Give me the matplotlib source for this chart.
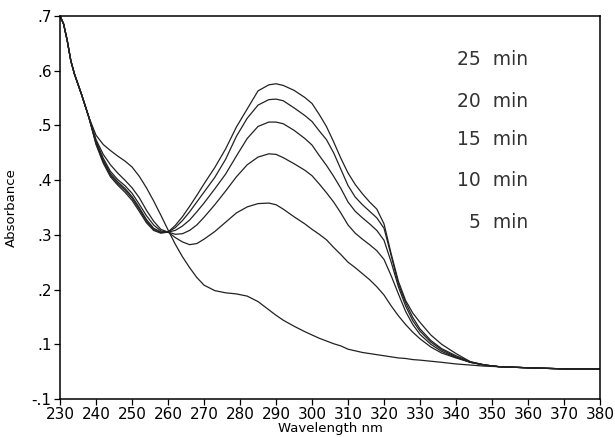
import matplotlib
matplotlib.use("Agg")
import matplotlib.pyplot as plt

# wavelength grid (nm)
wl = [230, 231, 232, 233, 234, 236, 238, 240, 242, 244, 246, 248, 250, 252, 254,
      256, 258, 260, 262, 264, 266, 268, 270, 273, 276, 279, 282, 285, 288, 290,
      292, 295, 298, 300, 302, 304, 306, 308, 310, 312, 314, 316, 318, 320, 322,
      324, 326, 328, 330, 333, 336, 340, 344, 348, 352, 356, 360, 365, 370, 375, 380]

start = [0.700, 0.685, 0.655, 0.618, 0.594, 0.556, 0.515]
tail = [0.059, 0.058, 0.057, 0.056, 0.055, 0.055, 0.055]

abs_0 = start + [0.482, 0.465, 0.454, 0.444, 0.435, 0.424, 0.407, 0.386,
                 0.362, 0.336, 0.309, 0.283, 0.260, 0.240, 0.222, 0.208, 0.198, 0.194, 0.192,
                 0.188, 0.178, 0.163, 0.153, 0.144, 0.133, 0.123, 0.117, 0.111, 0.106, 0.101,
                 0.097, 0.091, 0.088, 0.085, 0.083, 0.081, 0.079, 0.077, 0.075, 0.074, 0.072,
                 0.071, 0.069, 0.067, 0.064, 0.062, 0.060] + tail

abs_5 = start + [0.474, 0.447, 0.428, 0.413, 0.400, 0.386, 0.368, 0.345,
                 0.325, 0.310, 0.305, 0.295, 0.287, 0.282, 0.284, 0.292, 0.306, 0.323, 0.340,
                 0.351, 0.357, 0.358, 0.355, 0.347, 0.333, 0.320, 0.310, 0.301, 0.291, 0.277,
                 0.264, 0.250, 0.240, 0.229, 0.218, 0.205, 0.190, 0.170, 0.152, 0.136, 0.122,
                 0.110, 0.095, 0.084, 0.075, 0.067, 0.062] + tail

abs_10 = start + [0.471, 0.440, 0.416, 0.401, 0.390, 0.376, 0.356, 0.335,
                  0.318, 0.307, 0.305, 0.301, 0.302, 0.308, 0.318, 0.332, 0.355, 0.380, 0.406,
                  0.428, 0.442, 0.448, 0.447, 0.441, 0.430, 0.418, 0.408, 0.393, 0.377, 0.360,
                  0.340, 0.318, 0.303, 0.292, 0.282, 0.271, 0.255, 0.225, 0.192, 0.160, 0.136,
                  0.118, 0.100, 0.087, 0.076, 0.067, 0.062] + tail

abs_15 = start + [0.469, 0.437, 0.412, 0.397, 0.385, 0.370, 0.350, 0.328,
                  0.312, 0.305, 0.305, 0.308, 0.316, 0.327, 0.342, 0.358, 0.384, 0.411, 0.444,
                  0.476, 0.498, 0.506, 0.506, 0.503, 0.491, 0.476, 0.464, 0.445, 0.427, 0.407,
                  0.385, 0.360, 0.343, 0.331, 0.320, 0.308, 0.290, 0.250, 0.205, 0.170, 0.143,
                  0.124, 0.104, 0.090, 0.077, 0.067, 0.062] + tail

abs_20 = start + [0.467, 0.434, 0.409, 0.394, 0.382, 0.367, 0.347, 0.325,
                  0.310, 0.304, 0.305, 0.313, 0.326, 0.342, 0.360, 0.378, 0.405, 0.438, 0.480,
                  0.513, 0.537, 0.547, 0.548, 0.545, 0.532, 0.518, 0.507, 0.490, 0.474, 0.450,
                  0.420, 0.390, 0.369, 0.355, 0.343, 0.331, 0.312, 0.262, 0.210, 0.176, 0.149,
                  0.128, 0.107, 0.092, 0.079, 0.068, 0.062] + tail

abs_25 = start + [0.465, 0.431, 0.406, 0.391, 0.378, 0.363, 0.343, 0.322,
                  0.308, 0.303, 0.305, 0.317, 0.333, 0.352, 0.372, 0.393, 0.423, 0.457, 0.497,
                  0.530, 0.563, 0.574, 0.576, 0.573, 0.564, 0.551, 0.540, 0.520, 0.498, 0.470,
                  0.440, 0.413, 0.392, 0.375, 0.360, 0.347, 0.320, 0.265, 0.215, 0.180, 0.157,
                  0.140, 0.117, 0.100, 0.083, 0.068, 0.062] + tail

series = [abs_0, abs_5, abs_10, abs_15, abs_20, abs_25]
labels = ["25  min", "20  min", "15  min", "10  min", "5  min"]
label_y = [0.620, 0.543, 0.474, 0.400, 0.322]

x_ticks = list(range(230, 381, 10))
y_ticks = [0.0, 0.1, 0.2, 0.3, 0.4, 0.5, 0.6, 0.7]
y_tick_labels = ["-.1", ".1", ".2", ".3", ".4", ".5", ".6", ".7"]

fig = plt.figure(figsize=(6.15, 4.37), dpi=100)
ax = fig.add_axes([0.0976, 0.087, 0.878, 0.8766])

for s in series:
    ax.plot(wl, s, color="#222222", linewidth=0.9)

for lab, y in zip(labels, label_y):
    ax.text(360, y, lab, ha="right", va="center", fontsize=13.5, color="#333333")

ax.set_xlim(230, 380)
ax.set_ylim(0, 0.7)
ax.set_xticks(x_ticks)
ax.set_yticks(y_ticks)
ax.set_yticklabels(y_tick_labels)
ax.tick_params(direction="out", length=4, width=0.9, labelsize=11, pad=2)
for sp in ax.spines.values():
    sp.set_linewidth(1.1)

ax.set_xlabel("Wavelength nm", fontsize=9.5, labelpad=0)
ax.set_ylabel("Absorbance", fontsize=9.5, labelpad=10)

fig.savefig("out.png", dpi=100)
